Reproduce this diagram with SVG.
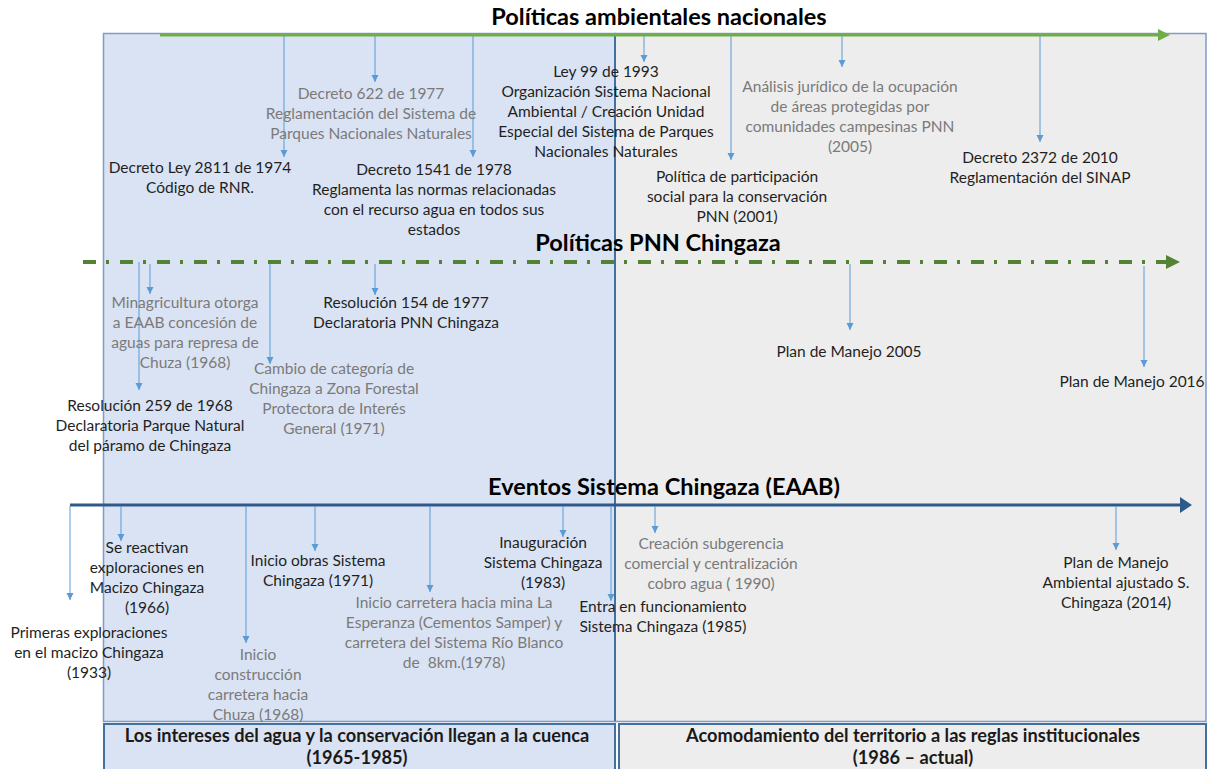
<svg xmlns="http://www.w3.org/2000/svg" width="1210" height="769" viewBox="0 0 1210 769">
<defs>
<style>
.t{font-family:Lato,"Liberation Sans",sans-serif;font-size:15.5px;text-anchor:middle}
.k{fill:#1f1f1f}
.g{fill:#7a7a7a}
.h{font-family:Lato,"Liberation Sans",sans-serif;font-weight:bold;font-size:23.5px;fill:#000;text-anchor:middle}
.f{font-family:Lato,"Liberation Sans",sans-serif;font-weight:bold;font-size:18.2px;fill:#1a1a1a;text-anchor:middle}
.drop{stroke:#5b9bd5;stroke-width:1;fill:none;marker-end:url(#tri)}
</style>
<marker id="tri" markerUnits="userSpaceOnUse" markerWidth="8" markerHeight="8" refX="7" refY="3.5" orient="auto">
<path d="M0,0 L7,3.5 L0,7 z" fill="#5b9bd5"/>
</marker>
</defs>
<rect width="1210" height="769" fill="#fff"/>
<g id="panels">
<rect x="103.5" y="33.5" width="511.5" height="688" fill="#dae3f3" stroke="#7f9bc6" stroke-width="1.5"/>
<rect x="615" y="33.5" width="591" height="688" fill="#ededed" stroke="#7f9bc6" stroke-width="1.5"/>
<line x1="615" y1="34" x2="615" y2="721" stroke="#41719c" stroke-width="2"/>
<rect x="104" y="724" width="511" height="50" fill="#dae3f3" stroke="#41719c" stroke-width="2"/>
<rect x="619" y="724" width="587" height="50" fill="#ededed" stroke="#41719c" stroke-width="2"/>
</g>
<g id="axes">
<line x1="160" y1="35" x2="1160" y2="35" stroke="#70ad47" stroke-width="3"/>
<path d="M1158,29 L1170,35 L1158,41 z" fill="#70ad47"/>
<line x1="83" y1="262" x2="1168" y2="262" stroke="#548235" stroke-width="4" stroke-dasharray="13 10 3 11"/>
<path d="M1166,255 L1180,262 L1166,269 z" fill="#548235"/>
<line x1="70" y1="505" x2="1182" y2="505" stroke="#2e5a8a" stroke-width="3"/>
<path d="M1180,497 L1192,505 L1180,513 z" fill="#2e5a8a"/>
</g>
<g id="connectors">
<line class="drop" x1="284" y1="36" x2="284" y2="157"/>
<line class="drop" x1="375" y1="36" x2="375" y2="82"/>
<line class="drop" x1="473" y1="36" x2="473" y2="157"/>
<line class="drop" x1="644" y1="36" x2="644" y2="62"/>
<line class="drop" x1="731" y1="36" x2="731" y2="160"/>
<line class="drop" x1="842" y1="36" x2="842" y2="67"/>
<line class="drop" x1="1040" y1="36" x2="1040" y2="142"/>
<line class="drop" x1="139" y1="262" x2="139" y2="390"/>
<line class="drop" x1="150" y1="264" x2="150" y2="294"/>
<line class="drop" x1="270" y1="264" x2="270" y2="364"/>
<line class="drop" x1="375" y1="264" x2="375" y2="295"/>
<line class="drop" x1="850" y1="264" x2="850" y2="330"/>
<line class="drop" x1="1144" y1="266" x2="1144" y2="367"/>
<line class="drop" x1="70" y1="506" x2="70" y2="600"/>
<line class="drop" x1="121" y1="506" x2="121" y2="541"/>
<line class="drop" x1="246" y1="506" x2="246" y2="643"/>
<line class="drop" x1="315" y1="506" x2="315" y2="551"/>
<line class="drop" x1="430" y1="506" x2="430" y2="592"/>
<line class="drop" x1="563" y1="506" x2="563" y2="537"/>
<line class="drop" x1="611" y1="506" x2="611" y2="601"/>
<line class="drop" x1="655" y1="506" x2="655" y2="533"/>
<line class="drop" x1="1116" y1="506" x2="1116" y2="550"/>
</g>
<g id="title1"><text class="h" x="659" y="25">Políticas ambientales nacionales</text></g>
<g id="title2"><text class="h" x="658" y="251">Políticas PNN Chingaza</text></g>
<g id="title3"><text class="h" x="664" y="495">Eventos Sistema Chingaza (EAAB)</text></g>
<g id="n-decreto2811"><text class="t k"><tspan x="200" y="173">Decreto Ley 2811 de 1974</tspan><tspan x="200" y="193">Código de RNR.</tspan></text></g>
<g id="n-decreto622"><text class="t g"><tspan x="371" y="99">Decreto 622 de 1977</tspan><tspan x="371" y="119">Reglamentación del Sistema de</tspan><tspan x="371" y="139">Parques Nacionales Naturales</tspan></text></g>
<g id="n-decreto1541"><text class="t k"><tspan x="434" y="175">Decreto 1541 de 1978</tspan><tspan x="434" y="195">Reglamenta las normas relacionadas</tspan><tspan x="434" y="215">con el recurso agua en todos sus</tspan><tspan x="434" y="235">estados</tspan></text></g>
<g id="n-ley99"><text class="t k"><tspan x="606" y="77">Ley 99 de 1993</tspan><tspan x="606" y="97">Organización Sistema Nacional</tspan><tspan x="606" y="117">Ambiental / Creación Unidad</tspan><tspan x="606" y="137">Especial del Sistema de Parques</tspan><tspan x="606" y="157">Nacionales Naturales</tspan></text></g>
<g id="n-analisis"><text class="t g"><tspan x="850" y="92">Análisis jurídico de la ocupación</tspan><tspan x="850" y="112">de áreas protegidas por</tspan><tspan x="850" y="132">comunidades campesinas PNN</tspan><tspan x="850" y="152">(2005)</tspan></text></g>
<g id="n-politica"><text class="t k"><tspan x="737" y="182">Política de participación</tspan><tspan x="737" y="202">social para la conservación</tspan><tspan x="737" y="222">PNN (2001)</tspan></text></g>
<g id="n-decreto2372"><text class="t k"><tspan x="1040" y="163">Decreto 2372 de 2010</tspan><tspan x="1040" y="183">Reglamentación del SINAP</tspan></text></g>
<g id="n-minagricultura"><text class="t g"><tspan x="185" y="308">Minagricultura otorga</tspan><tspan x="185" y="328">a EAAB concesión de</tspan><tspan x="185" y="348">aguas para represa de</tspan><tspan x="185" y="368">Chuza (1968)</tspan></text></g>
<g id="n-res259"><text class="t k"><tspan x="150" y="411">Resolución 259 de 1968</tspan><tspan x="150" y="431">Declaratoria Parque Natural</tspan><tspan x="150" y="451">del páramo de Chingaza</tspan></text></g>
<g id="n-cambio"><text class="t g"><tspan x="334" y="374">Cambio de categoría de</tspan><tspan x="334" y="394">Chingaza a Zona Forestal</tspan><tspan x="334" y="414">Protectora de Interés</tspan><tspan x="334" y="434">General (1971)</tspan></text></g>
<g id="n-res154"><text class="t k"><tspan x="406" y="308">Resolución 154 de 1977</tspan><tspan x="406" y="328">Declaratoria PNN Chingaza</tspan></text></g>
<g id="n-plan2005"><text class="t k" x="849" y="357">Plan de Manejo 2005</text></g>
<g id="n-plan2016"><text class="t k" x="1132" y="387">Plan de Manejo 2016</text></g>
<g id="n-primeras"><text class="t k"><tspan x="89" y="638">Primeras exploraciones</tspan><tspan x="89" y="658">en el macizo Chingaza</tspan><tspan x="89" y="678">(1933)</tspan></text></g>
<g id="n-reactivan"><text class="t k"><tspan x="147" y="553">Se reactivan</tspan><tspan x="147" y="573">exploraciones en</tspan><tspan x="147" y="593">Macizo Chingaza</tspan><tspan x="147" y="613">(1966)</tspan></text></g>
<g id="n-construccion"><text class="t g"><tspan x="258" y="660">Inicio</tspan><tspan x="258" y="680">construcción</tspan><tspan x="258" y="700">carretera hacia</tspan><tspan x="258" y="720">Chuza (1968)</tspan></text></g>
<g id="n-obras"><text class="t k"><tspan x="318" y="566">Inicio obras Sistema</tspan><tspan x="318" y="586">Chingaza (1971)</tspan></text></g>
<g id="n-carretera"><text class="t g"><tspan x="454" y="608">Inicio carretera hacia mina La</tspan><tspan x="454" y="628">Esperanza (Cementos Samper) y</tspan><tspan x="454" y="648">carretera del Sistema Río Blanco</tspan><tspan x="454" y="668">de&#160; 8km.(1978)</tspan></text></g>
<g id="n-inauguracion"><text class="t k"><tspan x="543" y="548">Inauguración</tspan><tspan x="543" y="568">Sistema Chingaza</tspan><tspan x="543" y="588">(1983)</tspan></text></g>
<g id="n-funcionamiento"><text class="t k"><tspan x="663" y="612">Entra en funcionamiento</tspan><tspan x="663" y="632">Sistema Chingaza (1985)</tspan></text></g>
<g id="n-subgerencia"><text class="t g"><tspan x="711" y="549">Creación subgerencia</tspan><tspan x="711" y="569">comercial y centralización</tspan><tspan x="711" y="589">cobro agua ( 1990)</tspan></text></g>
<g id="n-planambiental"><text class="t k"><tspan x="1116" y="568">Plan de Manejo</tspan><tspan x="1116" y="588">Ambiental ajustado S.</tspan><tspan x="1116" y="608">Chingaza (2014)</tspan></text></g>
<g id="period1"><text class="f"><tspan x="357" y="742">Los intereses del agua y la conservación llegan a la cuenca</tspan><tspan x="357" y="764">(1965-1985)</tspan></text></g>
<g id="period2"><text class="f"><tspan x="913" y="742">Acomodamiento del territorio a las reglas institucionales</tspan><tspan x="913" y="764">(1986 – actual)</tspan></text></g>
</svg>
